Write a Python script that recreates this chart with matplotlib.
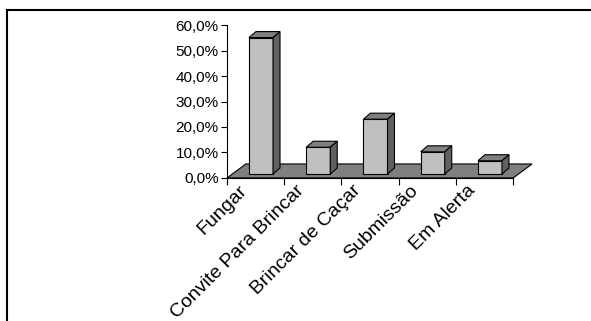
import matplotlib
matplotlib.use("Agg")
import matplotlib.pyplot as plt
from matplotlib.patches import Polygon
from matplotlib.lines import Line2D

# data (percent)
categories = ['Fungar', 'Convite Para Brincar', 'Brincar de Caçar', 'Submissão', 'Em Alerta']
values = [53.5, 10.5, 21.5, 8.7, 5.2]
yticks = [0, 10, 20, 30, 40, 50, 60]
ytick_labels = ['0,0%', '10,0%', '20,0%', '30,0%', '40,0%', '50,0%', '60,0%']

plt.rcParams['font.family'] = ['Liberation Sans', 'DejaVu Sans']

fig = plt.figure(figsize=(5.91, 3.21), dpi=100)
ax = fig.add_axes([0.384, 0.4455, 0.523, 0.4766])

n = len(categories)
# 3d look: floor depth and bar depth, in data units
floor_dx, floor_dy = 0.33, 5.5
bar_dx, bar_dy = 0.122, 2.35
bar_w = 0.42
bar_shift = 0.385
base = 1.57

floor = Polygon([(0, 0), (n, 0), (n + floor_dx, floor_dy), (floor_dx, floor_dy)],
                closed=True, facecolor='#808080', edgecolor='black', lw=0.8,
                clip_on=False, zorder=1)
ax.add_patch(floor)

lefts = [i + bar_shift for i in range(n)]
ax.bar(lefts, values, width=bar_w, bottom=base, align='edge',
       color='#C0C0C0', edgecolor='black', lw=0.8, zorder=3, clip_on=False)

for l, v in zip(lefts, values):
    top = base + v
    r = l + bar_w
    ax.add_patch(Polygon([(l, top), (r, top), (r + bar_dx, top + bar_dy), (l + bar_dx, top + bar_dy)],
                         closed=True, facecolor='#808080', edgecolor='black', lw=0.8,
                         clip_on=False, zorder=3))
    ax.add_patch(Polygon([(r, base), (r + bar_dx, base + bar_dy), (r + bar_dx, top + bar_dy), (r, top)],
                         closed=True, facecolor='#606060', edgecolor='black', lw=0.8,
                         clip_on=False, zorder=3))

ax.set_xlim(0, n + 0.4)
ax.set_ylim(0, 60)

for s in ['top', 'right']:
    ax.spines[s].set_visible(False)
ax.spines['left'].set_bounds(0, 60)
ax.spines['bottom'].set_bounds(0, n)
ax.spines['left'].set_linewidth(0.8)
ax.spines['bottom'].set_linewidth(0.8)

ax.set_yticks(yticks)
ax.set_yticklabels(ytick_labels, fontsize=11)
ax.tick_params(axis='y', direction='out', length=4, width=0.8, pad=2)

ax.set_xticks(range(n + 1))
ax.set_xticklabels([])
ax.tick_params(axis='x', direction='out', length=5, width=0.8)

for i, c in enumerate(categories):
    ax.text(i + 0.3, -4, c, rotation=45, rotation_mode='anchor',
            ha='right', va='center', fontsize=14)

ax.patch.set_visible(False)

# outer frame (left and top edges)
fig.add_artist(Line2D([7 / 591, 7 / 591], [0, 1 - 10 / 321], color='black', lw=1.5))
fig.add_artist(Line2D([7 / 591, 1], [1 - 10 / 321, 1 - 10 / 321], color='black', lw=1.5))

fig.savefig('out.png', dpi=100)
